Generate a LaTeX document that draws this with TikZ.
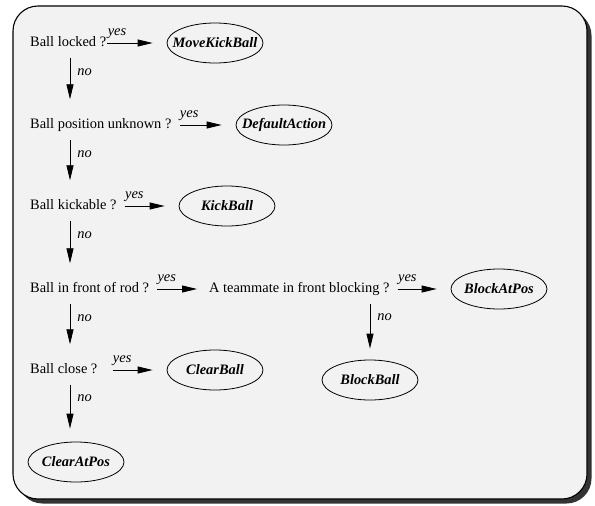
\documentclass[tikz,border=0pt]{standalone}
\usepackage{fontspec}
\setmainfont{Liberation Serif}
\usetikzlibrary{arrows.meta,shapes.geometric}

\newcommand\diafont{\fontsize{14.4}{17}\selectfont}

\tikzset{
  quest/.style={anchor=west,inner sep=0pt,text height=10pt,text depth=3pt,font=\diafont},
  act/.style={shape=ellipse,draw=black,line width=0.8pt,inner sep=0pt,minimum width=96pt,minimum height=40pt,font=\diafont\bfseries\itshape},
  yes/.style={-{Triangle[length=15pt,width=7pt]},line width=0.8pt,shorten <=8pt,shorten >=14pt},
  no/.style={-{Triangle[length=15pt,width=7pt]},line width=0.8pt,shorten <=8pt,shorten >=19pt},
  ylbl/.style={pos=0,anchor=south west,inner sep=0pt,xshift=8pt,yshift=4pt,font=\diafont\itshape},
  nlbl/.style={pos=0.33,anchor=west,inner sep=0pt,xshift=7pt,font=\diafont\itshape}
}

\begin{document}
\begin{tikzpicture}[x=1pt,y=-1pt]
    \useasboundingbox (0,0) rectangle (595,506);
    % frame with shadow
    \fill[black!80,rounded corners=25pt] (17.5,10.5) rectangle (591.5,503.5);
    \draw[fill=black!5,line width=1.1pt,rounded corners=25pt] (13,6) rectangle (587,499);

    \node[quest] (q1) at (30,43) {Ball locked ?};
    \node[quest] (q2) at (30,125) {Ball position unknown ?};
    \node[quest] (q3) at (30,206) {Ball kickable ?};
    \node[quest] (q4) at (30,289) {Ball in front of rod ?};
    \node[quest] (q5) at (30,370) {Ball close ?};
    \node[quest] (tm) at (209,289) {A teammate in front blocking ?};

    \node[act] (mkb) at (215,43) {\makebox[0pt]{MoveKickBall}};
    \node[act] (da) at (284,125) {\makebox[0pt]{DefaultAction}};
    \node[act] (kb) at (227,206) {\makebox[0pt]{KickBall}};
    \node[act] (bap) at (499,289) {\makebox[0pt]{BlockAtPos}};
    \node[act] (cb) at (215,370) {\makebox[0pt]{ClearBall}};
    \node[act] (bb) at (370,380) {\makebox[0pt]{BlockBall}};
    \node[act] (cap) at (76,462) {\makebox[0pt]{ClearAtPos}};

    % yes branches
    \path [yes,shorten <=1pt] (q1) edge node[ylbl,xshift=-7pt] {yes} (mkb);
    \path [yes] (q2) edge node[ylbl] {yes} (da);
    \path [yes] (q3) edge node[ylbl] {yes} (kb);
    \path [yes,shorten >=12pt] (q4) edge node[ylbl] {yes} (tm);
    \path [yes] (tm) edge node[ylbl] {yes} (bap);
    \path [yes,shorten <=15pt] (q5) edge node[ylbl,xshift=7pt] {yes} (cb);

    % no branches
    \path [no] ([xshift=40pt]q1.south west) edge node[nlbl] {no} ([xshift=40pt]q2.north west);
    \path [no] ([xshift=40pt]q2.south west) edge node[nlbl] {no} ([xshift=40pt]q3.north west);
    \path [no] ([xshift=40pt]q3.south west) edge node[nlbl] {no} ([xshift=40pt]q4.north west);
    \path [no] ([xshift=40pt]q4.south west) edge node[nlbl] {no} ([xshift=40pt]q5.north west);
    \path [no,shorten >=13pt] ([xshift=40pt]q5.south west) edge node[nlbl] {no} ([xshift=40pt]q5.south west |- cap.north);
    \path [no,shorten >=11pt] (tm.south -| bb) edge node[nlbl] {no} (bb);

 \end{tikzpicture}
\end{document}
